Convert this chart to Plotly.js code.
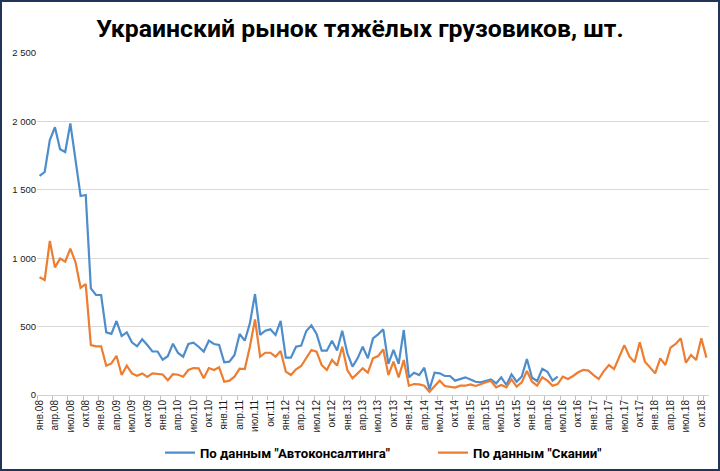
<!DOCTYPE html>
<html>
<head>
<meta charset="utf-8">
<script src="https://cdn.plot.ly/plotly-3.0.1.min.js"></script>
<style>
  html, body { margin: 0; padding: 0; background: #ffffff; }
  #wrap { position: relative; width: 720px; height: 471px; }
  #chart { width: 720px; height: 471px; }
  #frame { position: absolute; left: 0; top: 0; width: 720px; height: 471px; box-sizing: border-box; border: 2px solid #22345a; pointer-events: none; }
</style>
</head>
<body>
<div id="wrap"><div id="chart"></div><div id="frame"></div></div>
<script>
// Month names and years for the category labels
const monthNames = ["янв", "фев", "мар", "апр", "май", "июн", "июл", "авг", "сен", "окт", "ноя", "дек"];
const years = ["08", "09", "10", "11", "12", "13", "14", "15", "16", "17", "18"];
const lastMonthOfLastYear = 11; // Nov 2018 is the last category

// "По данным "Автоконсалтинга"" — Jan 2008 .. Jun 2016
const autoconsulting = [
  1601, 1630, 1864, 1957, 1796, 1776, 1986, 1720, 1455, 1462, 780, 731,
  731, 458, 447, 541, 431, 458, 385, 356, 407, 365, 319, 318,
  258, 283, 375, 307, 280, 373, 383, 353, 317, 397, 373, 366,
  239, 244, 292, 446, 397, 524, 738, 439, 470, 480, 439, 541,
  273, 273, 353, 361, 468, 509, 446, 324, 324, 397, 326, 470,
  305, 207, 268, 353, 268, 414, 443, 480, 227, 329, 227, 475,
  129, 163, 146, 200, 41, 163, 158, 139, 139, 105, 119, 129,
  114, 97, 93, 105, 114, 85, 129, 73, 151, 97, 135, 263,
  126, 102, 192, 170, 105, 134
];

// "По данным "Скании"" — Jan 2008 .. Nov 2018
const scania = [
  860, 841, 1126, 933, 997, 975, 1070, 972, 784, 811, 365, 356,
  356, 214, 231, 287, 146, 214, 158, 141, 158, 132, 158, 152,
  150, 108, 152, 148, 134, 183, 197, 195, 122, 197, 183, 202,
  97, 105, 134, 192, 190, 353, 553, 280, 309, 309, 280, 322,
  171, 146, 188, 212, 268, 329, 317, 219, 183, 256, 215, 353,
  183, 122, 158, 195, 163, 268, 285, 334, 146, 244, 129, 256,
  68, 80, 78, 68, 24, 61, 105, 66, 61, 54, 68, 68,
  78, 66, 78, 93, 102, 56, 73, 56, 114, 61, 92, 175,
  97, 68, 129, 105, 68, 80, 134, 117, 139, 166, 183, 178,
  146, 117, 175, 219, 190, 280, 365, 280, 239, 385, 244, 202,
  158, 268, 219, 346, 373, 414, 236, 292, 256, 414, 273
];

const seriesNames = ['По данным "Автоконсалтинга"', 'По данным "Скании"'];
const chartTitle = 'Украинский рынок тяжёлых грузовиков, шт.';

const categories = [];
years.forEach((y, yi) => {
  monthNames.forEach((m, mi) => {
    if (yi === years.length - 1 && mi >= lastMonthOfLastYear) return;
    categories.push(m + "." + y);
  });
});

const tickCats = categories.filter((c, i) => i % 3 === 0);

const traces = [
  {
    x: categories.slice(0, autoconsulting.length),
    y: autoconsulting,
    type: 'scatter', mode: 'lines', name: '<b>' + seriesNames[0] + '</b>',
    line: { color: '#4e8dcc', width: 2.2 },
    hoverinfo: 'x+y'
  },
  {
    x: categories.slice(0, scania.length),
    y: scania,
    type: 'scatter', mode: 'lines', name: '<b>' + seriesNames[1] + '</b>',
    line: { color: '#ed7d31', width: 2.2 },
    hoverinfo: 'x+y'
  }
];

const layout = {
  width: 720, height: 471,
  paper_bgcolor: '#ffffff', plot_bgcolor: '#ffffff',
  margin: { l: 37, r: 11, t: 53, b: 76 },
  separators: ', ',
  title: {
    text: '<b>' + chartTitle + '</b>',
    x: 0.5, xref: 'container', xanchor: 'center',
    y: 0.94, yref: 'container', yanchor: 'middle',
    font: { family: 'Roboto, "Open Sans", sans-serif', size: 24.8, color: '#000000' }
  },
  xaxis: {
    type: 'category',
    categoryorder: 'array', categoryarray: categories,
    range: [-0.5, categories.length - 0.5],
    tickmode: 'array', tickvals: tickCats, ticktext: tickCats,
    tickangle: -90,
    tickfont: { family: '"Liberation Sans", Arial, sans-serif', size: 10, color: '#1a1a1a' },
    ticks: 'outside', ticklen: 4, tickcolor: '#bfbfbf', tickson: 'boundaries',
    showgrid: false, zeroline: false,
    showline: true, linecolor: '#d0d0d0', linewidth: 1,
    fixedrange: true
  },
  yaxis: {
    range: [0, 2500], dtick: 500, tick0: 0,
    separatethousands: true,
    tickfont: { family: '"Liberation Sans", Arial, sans-serif', size: 9.5, color: '#1a1a1a' },
    showgrid: true, gridcolor: '#d9d9d9', gridwidth: 1,
    zeroline: false, showline: false, ticks: '',
    fixedrange: true
  },
  showlegend: true,
  legend: {
    orientation: 'h',
    x: 160 / 720, xref: 'container', xanchor: 'left',
    y: 18 / 471, yref: 'container', yanchor: 'middle',
    entrywidth: 228, entrywidthmode: 'pixels',
    font: { family: 'Roboto, "Open Sans", sans-serif', size: 13.2, color: '#000000', weight: 700 },
    itemwidth: 30, tracegroupgap: 0,
    bgcolor: 'rgba(0,0,0,0)'
  },
  hovermode: false
};

Plotly.newPlot('chart', traces, layout, { displayModeBar: false, staticPlot: true });
</script>
</body>
</html>
